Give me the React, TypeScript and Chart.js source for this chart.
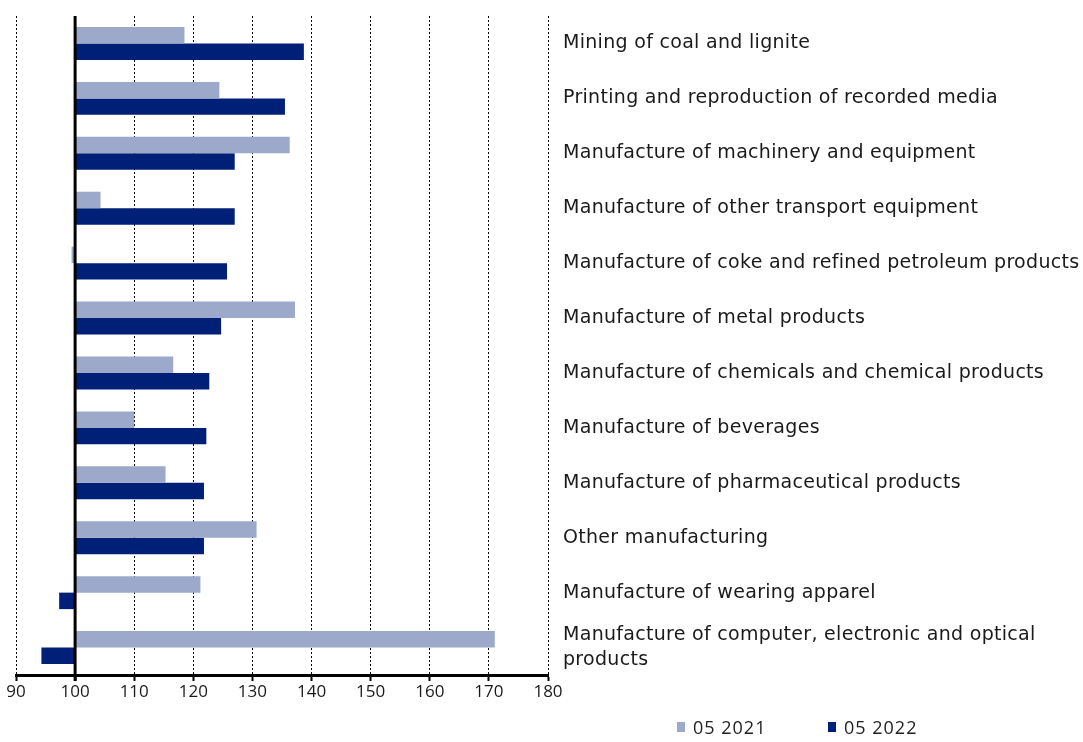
import React, { useEffect, useRef } from "react";
import { Chart, registerables } from "chart.js";

Chart.register(...registerables);

const categories: (string | string[])[] = [
  "Mining of coal and lignite",
  "Printing and reproduction of recorded media",
  "Manufacture of machinery and equipment",
  "Manufacture of other transport equipment",
  "Manufacture of coke and refined petroleum products",
  "Manufacture of metal products",
  "Manufacture of chemicals and chemical products",
  "Manufacture of beverages",
  "Manufacture of pharmaceutical products",
  "Other manufacturing",
  "Manufacture of wearing apparel",
  ["Manufacture of computer, electronic and optical", "products"],
];

const seriesNames = ["05 2021", "05 2022"];
const values2021 = [118.5, 124.4, 136.3, 104.3, 99.4, 137.2, 116.6, 110.0, 115.3, 130.7, 121.2, 171.0];
const values2022 = [138.7, 135.5, 127.0, 127.0, 125.7, 124.7, 122.7, 122.2, 121.8, 121.8, 97.3, 94.3];
const baseValue = 100;
const xMin = 90;
const xMax = 180;
const xStep = 10;

const LIGHT = "#9DA9CB";
const DARK = "#001F77";
const COLORS = [LIGHT, DARK];
const FONT = "'Open Sans', 'Noto Sans', sans-serif";
const LABEL_FONT = "'DejaVu Sans', sans-serif";

export default function App() {
  const ref = useRef<HTMLCanvasElement | null>(null);

  useEffect(() => {
    document.body.style.margin = "0";
    const canvas = ref.current;
    if (!canvas) return;

    const baseLine = {
      id: "baseLine",
      afterDatasetsDraw(chart: any) {
        const { ctx, chartArea, scales } = chart;
        const x = scales.x.getPixelForValue(baseValue);
        ctx.save();
        ctx.strokeStyle = "#000";
        ctx.lineWidth = 3;
        ctx.beginPath();
        ctx.moveTo(x, chartArea.top);
        ctx.lineTo(x, chartArea.bottom + 6);
        ctx.stroke();
        ctx.restore();
      },
    };

    const spacedLabels = {
      id: "spacedLabels",
      afterUpdate(chart: any) {
        const ys = chart.scales.y;
        if (ys && !ys._spaced) {
          const orig = ys.drawLabels.bind(ys);
          ys.drawLabels = (area: any) => {
            const c = chart.ctx;
            c.save();
            (c as any).letterSpacing = "0.3px";
            orig(area);
            c.restore();
          };
          ys._spaced = true;
        }
      },
    };

    const chart = new Chart(canvas, {
      type: "bar",
      data: {
        labels: categories as any,
        datasets: seriesNames.map((name, i) => ({
          label: name,
          data: (i === 0 ? values2021 : values2022).map((v) => [baseValue, v]) as any,
          backgroundColor: COLORS[i],
          categoryPercentage: 0.6,
          barPercentage: 1.0,
        })),
      },
      options: {
        indexAxis: "y",
        animation: false,
        responsive: false,
        layout: { padding: { top: 16, left: 16, right: 0, bottom: 37 } },
        plugins: {
          tooltip: { enabled: false },
          legend: { display: false },
        },
        scales: {
          x: {
            min: xMin,
            max: xMax,
            ticks: {
              stepSize: xStep,
              color: "#1a1a1a",
              font: { family: FONT, size: 17 },
              padding: 1,
            },
            grid: {
              color: "#000",
              lineWidth: 1,
              drawTicks: true,
              tickLength: 6,
              tickWidth: 2,
              tickColor: "#000",
              tickBorderDash: [],
            },
            border: { display: true, width: 3, color: "#000", dash: [2, 2] },
            afterFit(scale: any) {
              scale.height = 30;
            },
          },
          y: {
            position: "right",
            grid: { display: false, drawTicks: false },
            border: { display: false },
            ticks: {
              color: "#1a1a1a",
              padding: 15,
              font: { family: LABEL_FONT, size: 19, lineHeight: 1.3 },
              crossAlign: "near",
            },
            afterFit(scale: any) {
              scale.width = 535;
              scale.paddingTop = 0;
              scale.paddingBottom = 0;
            },
          },
        },
      },
      plugins: [baseLine, spacedLabels],
    });

    return () => chart.destroy();
  }, []);

  const legendItem = (i: number, left: number) => (
    <div
      key={i}
      style={{
        position: "absolute",
        left,
        top: 716,
        height: 22,
        display: "flex",
        alignItems: "center",
        fontFamily: FONT,
        fontSize: 18,
        letterSpacing: "1px",
        color: "#222",
        whiteSpace: "nowrap",
      }}
    >
      <span style={{ display: "inline-block", width: 8, height: 10, background: COLORS[i], marginRight: 8 }} />
      <span>{seriesNames[i]}</span>
    </div>
  );

  return (
    <div style={{ position: "relative", width: 1083, height: 742 }}>
      <canvas ref={ref} width={1083} height={742} style={{ display: "block" }} />
      {legendItem(0, 677)}
      {legendItem(1, 828)}
    </div>
  );
}
